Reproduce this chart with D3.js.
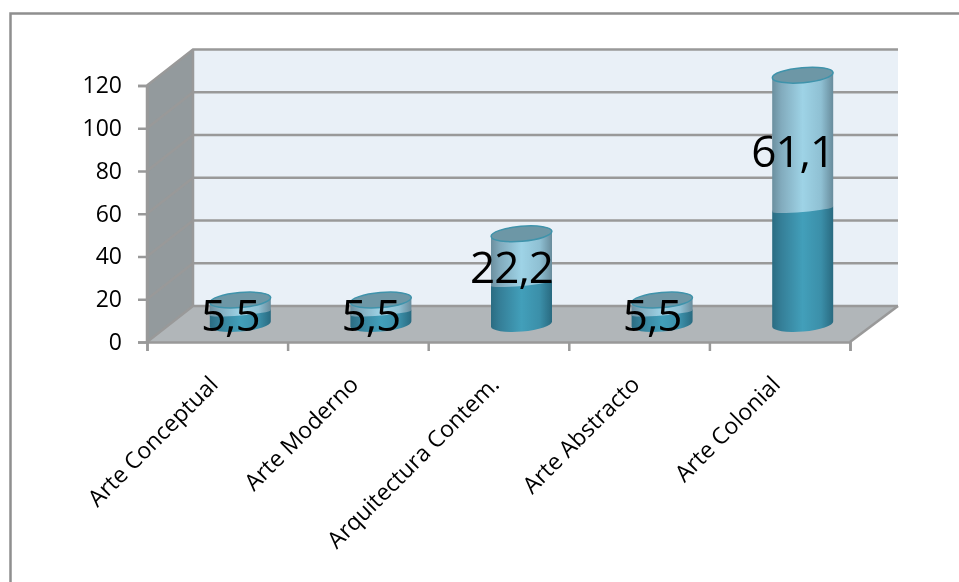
<!DOCTYPE html>
<html>
<head>
<meta charset="utf-8">
<script src="https://cdn.jsdelivr.net/npm/d3@7"></script>
<style>
  html, body { margin: 0; padding: 0; background: #fff; }
  svg { display: block; filter: blur(0.4px); }
  text { font-family: "Open Sans", "Noto Sans", sans-serif; fill: #000; }
</style>
</head>
<body>
<svg id="chart" width="959" height="582"></svg>
<script>
// values
const categories = ["Arte Conceptual", "Arte Moderno", "Arquitectura Contem.", "Arte Abstracto", "Arte Colonial"];
const lowerValues = [5.2, 5.2, 19, 5.2, 53.6];
const upperValues = [6, 6, 23.2, 6, 62.8];
const valueLabels = ["5,5", "5,5", "22,2", "5,5", "61,1"];
const yTicks = [0, 20, 40, 60, 80, 100, 120];

const svg = d3.select("#chart");
const defs = svg.append("defs");

const depth = { x: 46, y: -36 };
const plot = { left: 147, right: 850, bottom: 342, top: 85.5 };
const gridColor = "#999";

const x = d3.scaleBand().domain(categories).range([plot.left, plot.right]);
const y = d3.scaleLinear().domain([0, 120]).range([plot.bottom, plot.top]);

// cylinder shading, dark at the edges and bright in the middle
const addGradient = (id, stops) => {
  const g = defs.append("linearGradient").attr("id", id);
  stops.forEach(s => g.append("stop").attr("offset", s[0]).attr("stop-color", s[1]));
};
addGradient("darkBody", [[0, "#2a6c82"], [0.15, "#357f98"], [0.5, "#429fba"], [0.8, "#3b8fa9"], [1, "#296a80"]]);
addGradient("lightBody", [[0, "#6b8f9f"], [0.15, "#82abbd"], [0.5, "#9ed3e6"], [0.8, "#8fc0d3"], [1, "#688c9c"]]);

// the frame only shows along the top and left, the rest is cropped away
svg.append("path")
  .attr("d", "M10.5,582 V13.5 H959")
  .attr("fill", "none").attr("stroke", "#8f8f8f").attr("stroke-width", 2.5);

// walls and floor
const pts = a => a.map(p => p.join(",")).join(" ");
svg.append("polygon")
  .attr("points", pts([
    [plot.left + depth.x, y(120) + depth.y],
    [plot.right + depth.x + 2, y(120) + depth.y],
    [plot.right + depth.x + 2, y(0) + depth.y],
    [plot.left + depth.x, y(0) + depth.y]
  ]))
  .attr("fill", "#e9f0f7");
svg.append("polygon")
  .attr("points", pts([
    [plot.left, y(120)], [plot.left + depth.x, y(120) + depth.y],
    [plot.left + depth.x, y(0) + depth.y], [plot.left, y(0)]
  ]))
  .attr("fill", "#939a9d");
svg.append("polygon")
  .attr("points", pts([
    [plot.left, y(0)], [plot.right, y(0)],
    [plot.right + depth.x + 2, y(0) + depth.y], [plot.left + depth.x, y(0) + depth.y]
  ]))
  .attr("fill", "#b1b6b9");

// gridlines, along the side wall and then the back wall
const grid = svg.append("g")
  .attr("fill", "none").attr("stroke", gridColor).attr("stroke-width", 2.5);
grid.selectAll("polyline.grid")
  .data(yTicks)
  .enter().append("polyline")
  .attr("class", "grid")
  .attr("points", d => pts([
    [plot.left, y(d)],
    [plot.left + depth.x, y(d) + depth.y],
    [plot.right + depth.x + 2, y(d) + depth.y]
  ]));
grid.append("line")
  .attr("x1", plot.left + depth.x).attr("x2", plot.left + depth.x)
  .attr("y1", y(120) + depth.y).attr("y2", y(0) + depth.y);
grid.append("line")
  .attr("x1", plot.left).attr("x2", plot.left)
  .attr("y1", y(120)).attr("y2", y(0));
grid.append("line")
  .attr("x1", plot.right).attr("y1", y(0))
  .attr("x2", plot.right + depth.x + 2).attr("y2", y(0) + depth.y);

// axes
const yAxis = svg.append("g")
  .attr("transform", `translate(${plot.left},0)`)
  .call(d3.axisLeft(y).tickValues(yTicks).tickSize(9).tickPadding(16));
const xAxis = svg.append("g")
  .attr("transform", `translate(0,${plot.bottom})`)
  .call(d3.axisBottom(d3.scaleLinear().domain([0, categories.length]).range([plot.left, plot.right]))
    .ticks(categories.length).tickSize(9).tickFormat(""));
[yAxis, xAxis].forEach(a => {
  a.select(".domain").attr("stroke", gridColor).attr("stroke-width", 2.5);
  a.selectAll(".tick line").attr("stroke", gridColor).attr("stroke-width", 2.5);
});
yAxis.selectAll("text").attr("font-size", 23).style("font-family", '"Open Sans", sans-serif').attr("fill", "#222");

// category labels at 45 degrees, ending under each band
svg.append("g").selectAll("text")
  .data(categories)
  .enter().append("text")
  .attr("transform", d => `translate(${x(d) + x.bandwidth() / 2 + 2},${plot.bottom + 44}) rotate(-45)`)
  .attr("text-anchor", "end")
  .attr("font-size", 23)
  .attr("fill", "#222")
  .text(d => d);

// cylinders
const rx = 30.5, ry = 7.5, junctionRy = 2.5, tilt = -5;
const cx = d => x(d) + x.bandwidth() / 2 + depth.x / 2;
const yMid = v => y(v) + depth.y / 2;
const dyTilt = rx * Math.sin(-tilt * Math.PI / 180);

// side-on shape between two levels: flat sides with tilted elliptical arcs
const body = (c, v0, v1, bottomRy) => {
  const b = yMid(v0), t = yMid(v1);
  return `M${c - rx},${t + dyTilt} L${c - rx},${b + dyTilt}` +
    ` A${rx},${bottomRy} ${tilt} 0 0 ${c + rx},${b - dyTilt}` +
    ` L${c + rx},${t - dyTilt}` +
    ` A${rx},${ry} ${tilt} 0 0 ${c - rx},${t + dyTilt} Z`;
};

const bars = svg.append("g").selectAll("g")
  .data(categories.map((c, i) => ({ c, low: lowerValues[i], up: upperValues[i] })))
  .enter().append("g");

bars.append("path")
  .attr("d", d => body(cx(d.c), 0, d.low, ry))
  .attr("fill", "url(#darkBody)");
bars.append("path")
  .attr("d", d => body(cx(d.c), d.low, d.low + d.up, junctionRy))
  .attr("fill", "url(#lightBody)");
bars.append("ellipse")
  .attr("cx", d => cx(d.c))
  .attr("cy", d => yMid(d.low + d.up))
  .attr("rx", rx).attr("ry", ry)
  .attr("transform", d => `rotate(${tilt},${cx(d.c)},${yMid(d.low + d.up)})`)
  .attr("fill", "#6d97a6")
  .attr("stroke", "#3f93ab").attr("stroke-width", 1.5);

// value labels, centred on the upper segment and shifted down and to the left
svg.append("g").selectAll("text")
  .data(categories)
  .enter().append("text")
  .attr("x", d => cx(d) - 10)
  .attr("y", (d, i) => yMid(lowerValues[i] + upperValues[i] / 2) + 9)
  .attr("dy", "0.36em")
  .attr("text-anchor", "middle")
  .attr("font-size", 44)
  .attr("letter-spacing", -1)
  .text((d, i) => valueLabels[i]);
</script>
</body>
</html>
